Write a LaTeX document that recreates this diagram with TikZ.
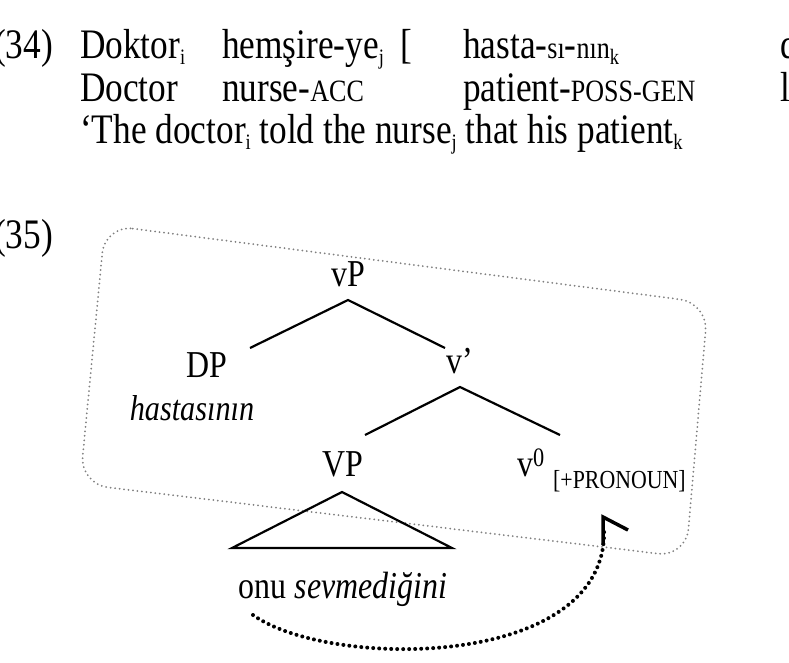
\documentclass[tikz,border=0pt]{standalone}
\usepackage{fontspec}
\setmainfont{Liberation Serif}[FakeStretch=0.84]
\usetikzlibrary{arrows.meta}
\newcommand{\sbx}[1]{\raisebox{-0.15em}{\fontsize{22}{24}\selectfont #1}}
\begin{document}
\begin{tikzpicture}[x=1pt,y=-1pt,
  txt/.style={inner sep=0pt,anchor=base west,font=\fontsize{42}{46}\selectfont},
  tr/.style={inner sep=0pt,anchor=base,font=\fontsize{38}{42}\selectfont},
  br/.style={line width=2.2pt}]
\useasboundingbox (0,0) rectangle (789,662);
\clip (0,0) rectangle (789,662);
\node[txt] (n34) at (-6,58) {(34)};
\node[txt] (w1) at (80,58) {Doktor\sbx{i}};
\node[txt] (w2) at (222,58) {hemşire-ye\sbx{j}};
\node[txt] (w3) at (400,58) {[};
\node[txt] (w4) at (463,58) {hasta-{\fontsize{31}{34}\selectfont sı}-{\fontsize{31}{34}\selectfont nın}\sbx{k}};
\node[txt] (w5) at (780,58) {d};
\node[txt] (g1) at (80,101) {Doctor};
\node[txt] (g2) at (222,101) {nurse-{\fontsize{31}{34}\selectfont ACC}};
\node[txt] (g3) at (463,101) {patient-{\fontsize{31}{34}\selectfont POSS-GEN}};
\node[txt] (g4) at (780,101) {l};
\node[txt] (tr1) at (80,143) {‘The doctor\sbx{i} told the nurse\sbx{j} that his patient\sbx{k}};
\node[txt] (n35) at (-6,248) {(35)};
\draw[gray,line width=2pt,line cap=round,dash pattern=on 0pt off 4.5pt,rounded corners=28] (105,225) -- (708,303) -- (686,557) -- (80,484) -- cycle;
\node[tr] (vP) at (348,286) {vP};
\node[tr] (DP) at (207,377) {DP};
\node[tr,font=\fontsize{36}{40}\selectfont\itshape] (h) at (192,420) {hastasının};
\node[tr] (vb) at (460,373) {v'};
\node[tr] (VP) at (343,476) {VP};
\node[tr,anchor=base west] (v0) at (517,476) {v\textsuperscript{0}};
\node[tr,anchor=base west,font=\fontsize{26}{30}\selectfont] (pr) at (553,488) {[+PRONOUN]};
\node[tr] (onu) at (343,598) {onu \textit{sevmediğini}};
\draw[br] (250,348) -- (348,300) -- (445,348);
\draw[br] (365,435) -- (460,387) -- (560,435);
\draw[br] (342,492) -- (232,548) -- (452,548) -- cycle;
\coordinate (s) at (253,615);
\draw[line width=4pt,line cap=round,dash pattern=on 0pt off 6pt] (s) .. controls (330,670) and (610,670) .. (604,528);
\draw[line width=3.5pt] (603,545) -- (603,517) -- (628,530);
\end{tikzpicture}
\end{document}
